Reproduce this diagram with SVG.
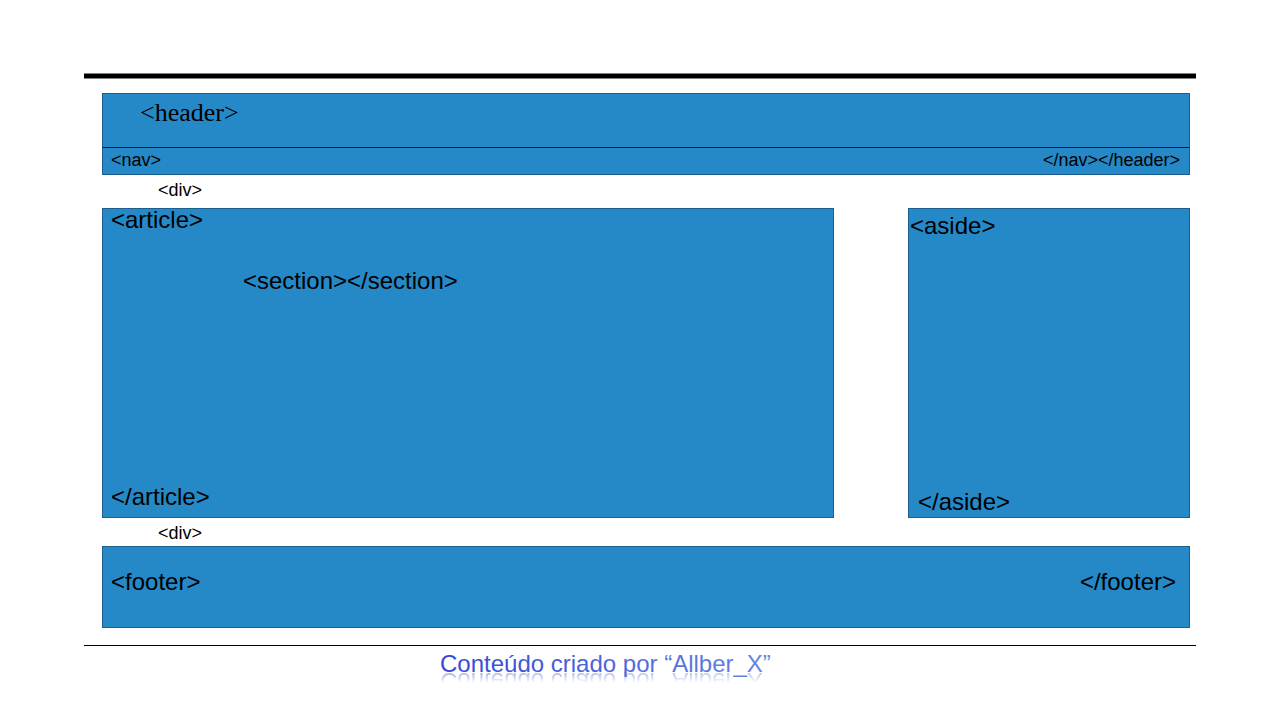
<svg xmlns="http://www.w3.org/2000/svg" xmlns:xlink="http://www.w3.org/1999/xlink" width="1280" height="720" viewBox="0 0 1280 720">
  <style>
    .box { fill: #2588C7; stroke: #1D5E8E; stroke-width: 1; }
    .t { font-family: "Liberation Sans", Arial, sans-serif; fill: #000; }
    .s18 { font-size: 18px; }
    .s24 { font-size: 24px; }
    .serif { font-family: "Liberation Serif", "Times New Roman", serif; font-size: 26px; fill: #000; }
    .cap { font-family: "Liberation Sans", Arial, sans-serif; font-size: 24px; }
  </style>
  <defs>
    <linearGradient id="capGrad" x1="0" y1="0" x2="1" y2="0">
      <stop offset="0" stop-color="#3546D2"/>
      <stop offset="1" stop-color="#6585E6"/>
    </linearGradient>
    <linearGradient id="fade" x1="0" y1="0" x2="0" y2="1">
      <stop offset="0" stop-color="#fff" stop-opacity="0.6"/>
      <stop offset="1" stop-color="#fff" stop-opacity="0"/>
    </linearGradient>
    <mask id="reflMask" maskUnits="userSpaceOnUse" x="0" y="670" width="1280" height="20">
      <rect x="0" y="672" width="1280" height="11" fill="url(#fade)"/>
    </mask>
  </defs>
  <rect width="1280" height="720" fill="#ffffff"/>

  <g id="rules">
    <line x1="84" y1="76" x2="1196" y2="76" stroke="#000" stroke-width="5"/>
    <line x1="84" y1="645.5" x2="1196" y2="645.5" stroke="#000" stroke-width="1.2"/>
  </g>

  <g id="header">
    <rect class="box" x="102.5" y="93.5" width="1087" height="81"/>
    <line x1="102.5" y1="147.5" x2="1189.5" y2="147.5" stroke="#0a1a2a" stroke-width="1.2"/>
    <text class="serif" x="140" y="121">&lt;header&gt;</text>
    <text class="t s18" x="111" y="166">&lt;nav&gt;</text>
    <text class="t s18" x="1180" y="166" text-anchor="end">&lt;/nav&gt;&lt;/header&gt;</text>
  </g>

  <g id="div-top">
    <text class="t s18" x="158" y="196">&lt;div&gt;</text>
  </g>

  <g id="article">
    <rect class="box" x="102.5" y="208.5" width="731" height="309"/>
    <text class="t s24" x="111" y="228">&lt;article&gt;</text>
    <text class="t s24" x="243" y="289">&lt;section&gt;&lt;/section&gt;</text>
    <text class="t s24" x="111" y="505">&lt;/article&gt;</text>
  </g>

  <g id="aside">
    <rect class="box" x="908.5" y="208.5" width="281" height="309"/>
    <text class="t s24" x="910" y="234">&lt;aside&gt;</text>
    <text class="t s24" x="918" y="510">&lt;/aside&gt;</text>
  </g>

  <g id="div-bottom">
    <text class="t s18" x="158" y="539">&lt;div&gt;</text>
  </g>

  <g id="footer">
    <rect class="box" x="102.5" y="546.5" width="1087" height="81"/>
    <text class="t s24" x="111" y="590">&lt;footer&gt;</text>
    <text class="t s24" x="1176" y="590" text-anchor="end">&lt;/footer&gt;</text>
  </g>

  <g id="caption">
    <text id="capText" class="cap" x="440" y="672" fill="url(#capGrad)">Conteúdo criado por “Allber_X”</text>
    <g mask="url(#reflMask)">
      <use xlink:href="#capText" href="#capText" transform="translate(0,1345) scale(1,-1)" opacity="0.8"/>
    </g>
  </g>
</svg>
